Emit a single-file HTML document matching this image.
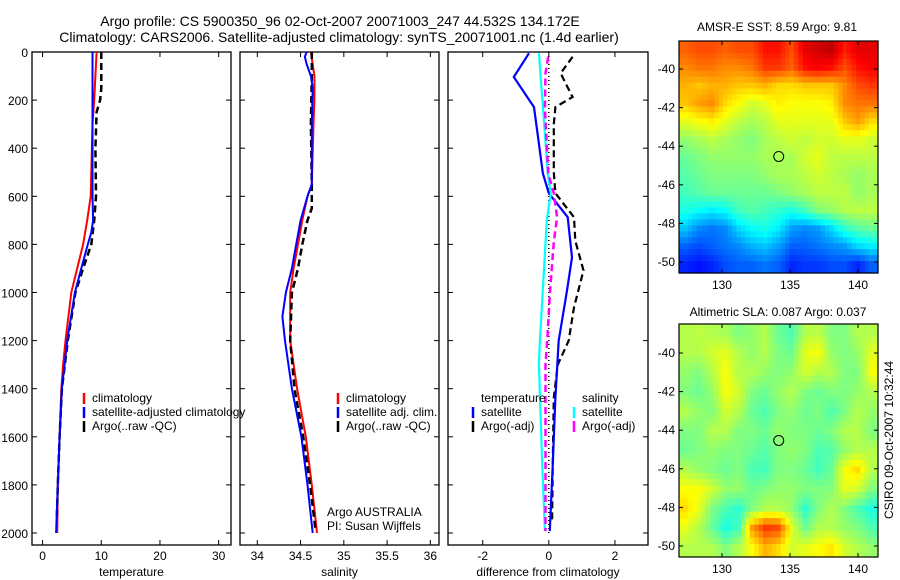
<!DOCTYPE html>
<html><head><meta charset="utf-8"><style>
body{margin:0;background:#fff}
svg{display:block;font-family:"Liberation Sans",sans-serif}
</style></head><body>
<svg id="s" width="900" height="580" viewBox="0 0 900 580">
<text x="340" y="26" font-size="14" text-anchor="middle">Argo profile: CS 5900350_96 02-Oct-2007 20071003_247 44.532S 134.172E</text>
<text x="339" y="42" font-size="14" text-anchor="middle">Climatology: CARS2006. Satellite-adjusted climatology: synTS_20071001.nc (1.4d earlier)</text>
<text x="777" y="31" font-size="12" text-anchor="middle">AMSR-E SST: 8.59 Argo: 9.81</text>
<text x="778" y="316" font-size="12" text-anchor="middle">Altimetric SLA: 0.087 Argo: 0.037</text>
<text transform="translate(893,440) rotate(-90)" font-size="12" text-anchor="middle">CSIRO 09-Oct-2007 10:32:44</text>
<text x="327" y="516" font-size="12">Argo AUSTRALIA</text>
<text x="327" y="530" font-size="12">PI: Susan Wijffels</text>
</svg>
<script>
// ---- data ----
const tClimDepth=[0,100,200,300,600,700,800,900,1000,1100,1200,1300,1400,1600,1800,2000];
const tClim=[9.2,9.0,8.8,8.5,8.2,7.6,6.9,5.9,4.9,4.4,3.9,3.5,3.2,2.9,2.6,2.5];
const tSatDepth=[0,600,700,750,800,900,1000,1200,1400,1600,1800,2000];
const tSat=[8.5,8.5,8.6,8.3,7.7,6.6,5.5,4.2,3.3,2.9,2.6,2.3];
const tArgoDepth=[0,50,150,200,250,400,600,700,800,900,1000,1200,1400,1600,1800,1950];
const tArgo=[10,10,10,9.8,9.2,9.0,9.1,8.8,8.3,6.9,5.6,4.3,3.3,2.9,2.6,2.4];
const sClimDepth=[0,100,200,300,550,600,700,800,900,1000,1200,1400,1600,1800,2000];
const sClim=[34.62,34.66,34.66,34.65,34.63,34.58,34.52,34.47,34.42,34.38,34.38,34.46,34.56,34.63,34.69];
const sSatDepth=[0,20,50,100,150,300,550,600,700,800,900,1000,1100,1200,1400,1600,1800,2000];
const sSat=[34.57,34.55,34.57,34.62,34.64,34.63,34.63,34.58,34.50,34.45,34.40,34.33,34.29,34.32,34.40,34.51,34.58,34.64];
const sArgoDepth=[0,100,300,550,650,700,800,900,1000,1200,1400,1600,1800,1980];
const sArgo=[34.63,34.63,34.62,34.63,34.63,34.58,34.52,34.47,34.40,34.38,34.43,34.53,34.61,34.67];
const dTSatDepth=[5,104,229,505,587,687,854,992,1200,1437,1712,1992];
const dTSat=[-0.6,-1.06,-0.45,-0.18,0,0.57,0.7,0.55,0.3,0.2,0.12,0.03];
const dTArgoDepth=[20,88,129,187,229,300,500,587,687,785,908,1062,1200,1300,1437,1700,1950];
const dTArgo=[0.72,0.36,0.5,0.72,0.2,0.15,0.15,0.2,0.76,0.8,1.05,0.76,0.6,0.27,0.15,0.12,0.1];
const dSSatDepth=[5,229,505,587,700,1200,1300,1712,1992];
const dSSat=[-0.3,-0.18,-0.03,0.06,-0.06,-0.27,-0.3,-0.2,-0.12];
const dSArgoDepth=[20,88,229,505,587,687,790,992,1200,1300,1992];
const dSArgo=[-0.02,-0.1,-0.12,-0.02,0.15,0.25,0.15,0.04,-0.05,-0.1,-0.1];
const depthTicks=[0,200,400,600,800,1000,1200,1400,1600,1800,2000];
const tTicks=[0,10,20,30];
const sTicks=[34,34.5,35,35.5,36];
const dTicks=[-2,0,2];
const sst=[
[.78,.8,.8,.78,.8,.8,.86,.86,.8,.9,.92,.94,.85,.9,.9],
[.74,.76,.76,.74,.74,.76,.82,.82,.78,.86,.88,.86,.8,.86,.88],
[.7,.68,.7,.7,.68,.68,.7,.66,.66,.68,.68,.68,.74,.8,.82],
[.68,.72,.74,.66,.62,.58,.6,.64,.62,.62,.62,.64,.74,.76,.76],
[.6,.62,.64,.6,.56,.54,.56,.6,.6,.6,.6,.6,.68,.72,.66],
[.52,.54,.56,.54,.52,.5,.54,.56,.58,.56,.58,.58,.6,.6,.58],
[.48,.5,.52,.52,.52,.52,.54,.54,.54,.58,.6,.56,.56,.56,.56],
[.46,.48,.5,.5,.5,.5,.52,.54,.54,.56,.58,.56,.54,.52,.54],
[.44,.46,.48,.48,.48,.48,.48,.5,.52,.54,.56,.56,.56,.52,.54],
[.4,.38,.36,.38,.44,.46,.44,.42,.4,.44,.5,.52,.55,.56,.56],
[.32,.26,.24,.26,.34,.38,.4,.36,.28,.26,.28,.34,.42,.46,.48],
[.22,.2,.22,.24,.26,.3,.32,.28,.22,.22,.24,.26,.28,.34,.36],
[.16,.14,.16,.2,.22,.22,.24,.22,.16,.18,.18,.2,.2,.16,.22]];
const sla=[
[.55,.56,.55,.54,.5,.52,.55,.48,.45,.55,.56,.5,.5,.55,.55],
[.55,.55,.58,.6,.55,.52,.55,.5,.48,.6,.62,.52,.5,.52,.6],
[.52,.5,.55,.62,.55,.55,.52,.5,.52,.58,.55,.55,.5,.5,.62],
[.5,.48,.52,.62,.58,.5,.48,.52,.55,.5,.48,.5,.5,.52,.55],
[.55,.52,.5,.58,.55,.48,.45,.5,.52,.48,.5,.45,.5,.55,.52],
[.5,.5,.55,.55,.5,.5,.48,.52,.5,.5,.48,.5,.55,.55,.5],
[.48,.5,.52,.5,.5,.48,.46,.5,.52,.5,.45,.46,.52,.55,.55],
[.55,.52,.5,.48,.5,.45,.44,.5,.5,.48,.44,.48,.62,.66,.55],
[.62,.62,.58,.52,.52,.48,.5,.52,.52,.5,.5,.5,.6,.58,.5],
[.66,.6,.5,.45,.42,.5,.55,.55,.52,.42,.5,.55,.5,.45,.4],
[.6,.55,.48,.4,.44,.72,.82,.8,.6,.48,.55,.55,.52,.5,.45],
[.55,.55,.55,.5,.55,.62,.7,.66,.58,.6,.62,.65,.58,.55,.52]];
const lonTicks=[130,135,140];
const latTicks=[-40,-42,-44,-46,-48,-50];
const argoLon=134.172, argoLat=-44.532;

const S=document.getElementById('s'),NS='http://www.w3.org/2000/svg';
function mk(t,a,p){const e=document.createElementNS(NS,t);for(const k in a)e.setAttribute(k,a[k]);(p||S).appendChild(e);return e;}
const Y0=52,Y1=545,dScale=0.2405;
const yD=d=>Y0+d*dScale;
function panel(name,L,R,xmin,xmax,ticks,label,ylabels){
  const xf=v=>L+(v-xmin)/(xmax-xmin)*(R-L);
  const g=mk('g',{});
  
  
  const r=mk('rect',{x:L,y:Y0,width:R-L,height:Y1-Y0,fill:'none',stroke:'#000','stroke-width':1.3},g);
  
  depthTicks.forEach(d=>{const y=yD(d);
    mk('line',{x1:L,x2:L+5,y1:y,y2:y,stroke:'#000'},g);mk('line',{x1:R,x2:R-5,y1:y,y2:y,stroke:'#000'},g);
    if(ylabels){const t=mk('text',{x:L-4,y:y+5,'font-size':12,'text-anchor':'end'},g);t.textContent=d;
      }
  });
  ticks.forEach(v=>{const x=xf(v);
    mk('line',{x1:x,x2:x,y1:Y1,y2:Y1-5,stroke:'#000'},g);mk('line',{x1:x,x2:x,y1:Y0,y2:Y0+5,stroke:'#000'},g);
    const t=mk('text',{x:x,y:560,'font-size':12,'text-anchor':'middle'},g);t.textContent=v;
    });
  const t=mk('text',{x:(L+R)/2,y:576,'font-size':12,'text-anchor':'middle'},g);t.textContent=label;
  
  return xf;
}
function line(xf,depths,vals,color,w,dash,name){
  const pts=depths.map((d,i)=>xf(vals[i]).toFixed(1)+','+yD(d).toFixed(1)).join(' ');
  const a={points:pts,fill:'none',stroke:color,'stroke-width':w};if(dash)a['stroke-dasharray']=dash;
  const e=mk('polyline',a);
  
  
}
function legend(x,y,color,txt,name){
  const l=mk('line',{x1:x,x2:x,y1:y-9,y2:y+2,stroke:color,'stroke-width':2.5});
  
  const t=mk('text',{x:x+8,y:y,'font-size':12});t.textContent=txt;
  
}
const xT=panel('temperature-panel',32,231,-1.8,32.1,tTicks,'temperature',true);
line(xT,tClimDepth,tClim,'#f00',2,null,'temp-climatology-line');
line(xT,tArgoDepth,tArgo,'#000',2.5,'7,4','temp-argo-line');
line(xT,tSatDepth,tSat,'#00f',2,null,'temp-satellite-line');
legend(84,402,'#f00','climatology','legend-climatology');
legend(84,416,'#00f','satellite-adjusted climatology','legend-satellite');
legend(84,430,'#000','Argo(..raw -QC)','legend-argo');
const xS=panel('salinity-panel',240,439,33.8,36.1,sTicks,'salinity',false);
line(xS,sClimDepth,sClim,'#f00',2,null,'sal-climatology-line');
line(xS,sArgoDepth,sArgo,'#000',2.5,'7,4','sal-argo-line');
line(xS,sSatDepth,sSat,'#00f',2,null,'sal-satellite-line');
legend(338,402,'#f00','climatology','legend-sal-climatology');
legend(338,416,'#00f','satellite adj. clim.','legend-sal-satellite');
legend(338,430,'#000','Argo(..raw -QC)','legend-sal-argo');
const xD=panel('difference-panel',448,648,-3.05,3.0,dTicks,'difference from climatology',false);
line(xD,[0,2000],[0,0],'#000',1.5,'1,3','zero-line');
line(xD,dTArgoDepth,dTArgo,'#000',2.2,'7,4','dtemp-argo-line');
line(xD,dTSatDepth,dTSat,'#00f',2.2,null,'dtemp-satellite-line');
line(xD,dSSatDepth,dSSat,'#0ff',2.2,null,'dsal-satellite-line');
line(xD,dSArgoDepth,dSArgo,'#f0f',2.5,'7,4','dsal-argo-line');
{const t=mk('text',{x:481,y:402,'font-size':12});t.textContent='temperature';}
legend(473,416,'#00f','satellite','legend-dtemp-satellite');
legend(473,430,'#000','Argo(-adj)','legend-dtemp-argo');
{const t=mk('text',{x:582,y:402,'font-size':12});t.textContent='salinity';}
legend(574,416,'#0ff','satellite','legend-dsal-satellite');
legend(574,430,'#f0f','Argo(-adj)','legend-dsal-argo');

function jet(v){v=Math.max(0,Math.min(1,v));
  const f=x=>Math.round(255*Math.max(0,Math.min(1,1.5-Math.abs(4*v-x))));
  return `rgb(${f(3)},${f(2)},${f(1)})`;}
function map(name,grid,T,B,lat40y,lat50y){
  const L=679,R=878,lonMin=126.84,lonMax=141.47;
  const xf=lon=>L+(lon-lonMin)/(lonMax-lonMin)*(R-L);
  const yf=lat=>lat40y+(lat+40)/(-10)*(lat50y-lat40y);
  const latTop=-40+(lat40y-T)/((lat50y-lat40y)/10), latBot=-40-(B-lat40y)/((lat50y-lat40y)/10);
  const g=mk('g',{});
  const rows=grid.length,cols=grid[0].length,sub=3;
  const val=(r,c)=>grid[Math.max(0,Math.min(rows-1,r))][Math.max(0,Math.min(cols-1,c))];
  for(let i=0;i<rows*sub;i++)for(let j=0;j<cols*sub;j++){
    const fr=(i+0.5)/sub-0.5,fc=(j+0.5)/sub-0.5,r0=Math.floor(fr),c0=Math.floor(fc),a=fr-r0,b=fc-c0;
    const v=(1-a)*((1-b)*val(r0,c0)+b*val(r0,c0+1))+a*((1-b)*val(r0+1,c0)+b*val(r0+1,c0+1));
    const lat0=latTop+(latBot-latTop)*i/(rows*sub),lat1=latTop+(latBot-latTop)*(i+1)/(rows*sub);
    const lo0=lonMin+(lonMax-lonMin)*j/(cols*sub),lo1=lonMin+(lonMax-lonMin)*(j+1)/(cols*sub);
    const c=mk('rect',{x:xf(lo0).toFixed(2),y:yf(lat0).toFixed(2),width:(xf(lo1)-xf(lo0)+0.6).toFixed(2),height:(yf(lat1)-yf(lat0)+0.6).toFixed(2),fill:jet(v)},g);
    
    
  }
  mk('rect',{x:L,y:T,width:R-L,height:B-T,fill:'none',stroke:'#000','stroke-width':1.2},g);
  lonTicks.forEach(lon=>{const x=xf(lon);mk('line',{x1:x,x2:x,y1:T,y2:T+4,stroke:'#000'},g);mk('line',{x1:x,x2:x,y1:B,y2:B-4,stroke:'#000'},g);
    const t=mk('text',{x:x,y:B+16,'font-size':12,'text-anchor':'middle'},g);t.textContent=lon;
    });
  latTicks.forEach(lat=>{const y=yf(lat);mk('line',{x1:L,x2:L+4,y1:y,y2:y,stroke:'#000'},g);mk('line',{x1:R,x2:R-4,y1:y,y2:y,stroke:'#000'},g);
    const t=mk('text',{x:L-4,y:y+4,'font-size':12,'text-anchor':'end'},g);t.textContent=lat;
    });
  const c=mk('circle',{cx:xf(argoLon),cy:yf(argoLat),r:5,fill:'none',stroke:'#000','stroke-width':1},g);
  
}
map('sst-map',sst,41,273,69,262);
map('sla-map',sla,324,557,353,546);
</script>
</body></html>
